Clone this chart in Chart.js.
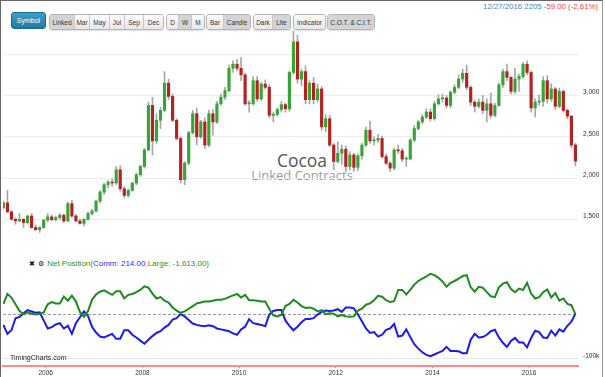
<!DOCTYPE html>
<html>
<head>
<meta charset="utf-8">
<script src="https://cdn.jsdelivr.net/npm/chart.js@4.4.1/dist/chart.umd.min.js"></script>
<style>
  body { margin: 0; width: 605px; height: 377px; position: relative; overflow: hidden; background: #fff; font-family: Arial, "Liberation Sans", sans-serif; }
  #frame { position: absolute; left: 0; top: 0; width: 603px; height: 377px; box-sizing: border-box; border-left: 1px solid #666; border-top: 1px solid #666; border-right: 1px solid #999; z-index: 10; pointer-events: none; }
  #stamp { position: absolute; right: 7px; top: 2px; font-size: 7.8px; white-space: nowrap; }
  #stamp .up { color: #4a82c6; }
  #stamp .dn { color: #ee4444; }
  .sym { position: absolute; left: 11px; top: 12px; width: 35px; height: 17px; border-radius: 3px; background: linear-gradient(#3d9fc7, #1f7aa0); border: 1px solid #1b6b8e; box-sizing: border-box; color: #fff; font-size: 7px; display: flex; align-items: center; justify-content: center; }
  .grp { position: absolute; top: 14px; height: 14px; display: flex; border: 1px solid #b5b5b5; border-radius: 3px; overflow: hidden; box-shadow: 0 1px 1px rgba(0,0,0,0.12); }
  .b { display: flex; align-items: center; justify-content: center; height: 100%; font-size: 6.5px; color: #333; background: linear-gradient(#fbfbfb, #e8e8e8); border-right: 1px solid #c8c8c8; box-sizing: border-box; white-space: nowrap; }
  .b:last-child { border-right: 0; }
  .b.on { background: #d4d4d4; }
  #title { position: absolute; left: 202px; width: 200px; text-align: center; font-family: "Open Sans", sans-serif; z-index: 0; }
  #title .t1 { position: absolute; left: 0; width: 200px; top: 151px; font-size: 17.5px; line-height: 18px; color: #555; }
  #title .t2 { position: absolute; left: 0; width: 200px; top: 168px; font-size: 13px; line-height: 14px; color: #9a9a9a; }
  canvas { position: absolute; left: 0; z-index: 1; }
  #priceChart { top: 30px; }
  #netChart { top: 270px; }
  #legend { position: absolute; left: 29px; top: 259px; font-size: 8px; white-space: nowrap; z-index: 2; }
  #legend .k { color: #111; font-family: "DejaVu Sans", sans-serif; font-size: 7px; margin-right: 3px; }
  #legend .g { color: #1f951f; }
  #legend .bl { color: #2a2aff; }
  #brand { position: absolute; left: 10px; top: 354px; font-size: 7px; color: #222; z-index: 2; }
</style>
</head>
<body>
<div id="frame"></div>
<div id="stamp"><span class="up">12/27/2016 2205</span> <span class="dn">-59.00 (-2.61%)</span></div>

<div class="sym">Symbol</div>
<div class="grp" style="left:49px">
  <span class="b on" style="width:25px">Linked</span><span class="b" style="width:15px">Mar</span><span class="b" style="width:20px">May</span><span class="b" style="width:15px">Jul</span><span class="b" style="width:19px">Sep</span><span class="b" style="width:19px">Dec</span>
</div>
<div class="grp" style="left:166px">
  <span class="b" style="width:12px">D</span><span class="b on" style="width:13px">W</span><span class="b" style="width:12px">M</span>
</div>
<div class="grp" style="left:206px">
  <span class="b" style="width:17px">Bar</span><span class="b on" style="width:26px">Candle</span>
</div>
<div class="grp" style="left:253px">
  <span class="b" style="width:19px">Dark</span><span class="b on" style="width:17px">Lite</span>
</div>
<div class="grp" style="left:293px">
  <span class="b" style="width:31px">Indicator</span>
</div>
<div class="grp" style="left:327px">
  <span class="b on" style="width:46px">C.O.T. &amp; C.I.T.</span>
</div>

<div id="title"><div class="t1">Cocoa</div><div class="t2">Linked Contracts</div></div>

<canvas id="priceChart" width="605" height="205"></canvas>

<div id="legend"><span class="k">✖</span><span class="k">⚙</span><span class="g">Net Position(</span><span class="bl">Comm: 214.00</span><span class="g">,Large: -1,613.00)</span></div>
<canvas id="netChart" width="605" height="107"></canvas>
<div id="brand">TimingCharts.com</div>

<script>
// monthly candles, Feb 2005 .. Dec 2016
const months = [];
for (let y = 2005; y <= 2016; y++) {
  for (let m = 1; m <= 12; m++) {
    if (y === 2005 && m === 1) continue;
    months.push(y + '-' + String(m).padStart(2, '0'));
  }
}

const open = [
  1640,1700,1590,1500,1480,1500,1460,1540,1400,1375,1400,
  1490,1530,1495,1520,1550,1480,1690,1540,1480,1450,1500,1570,
  1600,1720,1830,1920,1950,1940,2100,1870,1790,1850,1940,2040,
  2140,2340,2880,2450,2700,2820,3150,2990,2700,2480,1980,2180,
  2550,2780,2500,2680,2400,2780,2680,2900,2980,3060,3330,3380,
  3330,3250,2900,2900,3180,2960,3140,3100,2760,2770,2830,2890,
  2840,3280,3650,3200,3290,2950,3150,2950,3080,2620,2720,2400,
  2200,2300,2350,2140,2280,2130,2270,2400,2580,2450,2460,2480,
  2260,2180,2120,2340,2330,2230,2230,2460,2600,2680,2740,2800,
  2720,2900,2960,2970,2880,3040,3100,3200,3270,3100,2920,2870,
  2920,2820,2900,2760,2880,3130,3290,3220,3050,3200,3230,3380,
  3280,2850,2920,2930,3180,2960,3080,2870,3050,2820,2750,2400
];
const high = [
  1720,1850,1610,1520,1570,1510,1550,1570,1430,1410,1500,
  1570,1550,1540,1570,1565,1710,1730,1560,1500,1510,1590,1620,
  1730,1850,1940,1970,1990,2140,2150,1900,1870,1950,2060,2160,
  2360,2920,2980,2780,2860,3290,3200,3020,2720,2500,2200,2570,
  2820,2850,2700,2730,2820,2830,2930,3020,3100,3370,3420,3440,
  3460,3270,2940,3230,3230,3160,3190,3130,2800,2850,2930,2910,
  3300,3780,3730,3320,3360,3180,3220,3140,3110,2770,2760,2420,
  2440,2400,2390,2320,2300,2290,2420,2620,2690,2500,2530,2510,
  2290,2200,2360,2400,2360,2260,2480,2640,2700,2770,2840,2840,
  2930,3010,3020,3000,3060,3130,3250,3320,3370,3120,2940,2960,
  3000,2960,3030,2910,3150,3320,3380,3230,3330,3260,3400,3420,
  3300,2960,3010,3230,3240,3140,3100,3090,3070,2840,2760,2420
];
const low = [
  1620,1580,1490,1440,1470,1400,1440,1390,1360,1340,1390,
  1470,1480,1480,1500,1460,1470,1520,1470,1440,1420,1490,1550,
  1590,1700,1800,1880,1900,1920,1840,1760,1770,1840,1920,2020,
  2120,2330,2280,2420,2600,2800,2950,2680,2460,1940,1920,2160,
  2530,2400,2480,2360,2380,2520,2660,2880,2950,3040,3280,3300,
  3180,2880,2800,2880,2930,2940,3080,2730,2680,2750,2800,2800,
  2810,3260,3150,3120,2900,2900,2900,2920,2580,2560,2380,2100,
  2180,2170,2080,2100,2080,2090,2230,2380,2420,2400,2430,2240,
  2160,2080,2100,2300,2200,2140,2220,2440,2580,2660,2720,2690,
  2700,2880,2920,2850,2850,3020,3080,3160,3070,2880,2800,2850,
  2780,2680,2730,2740,2870,3100,3180,3020,3020,3050,3210,3250,
  2800,2740,2880,2870,2910,2930,2830,2850,2800,2720,2370,2150
];
const close = [
  1700,1590,1500,1480,1500,1460,1540,1400,1375,1400,1490,
  1530,1495,1520,1550,1480,1690,1540,1480,1450,1500,1570,1600,
  1720,1830,1920,1950,1940,2100,1870,1790,1850,1940,2040,2140,
  2340,2880,2450,2700,2820,3150,2990,2700,2480,1980,2180,2550,
  2780,2500,2680,2400,2780,2680,2900,2980,3060,3330,3380,3330,
  3250,2900,2900,3180,2960,3140,3100,2760,2770,2830,2890,2840,
  3280,3650,3200,3290,2950,3150,2950,3080,2620,2720,2400,2200,
  2300,2350,2140,2280,2130,2270,2400,2580,2450,2460,2480,2260,
  2180,2120,2340,2330,2230,2230,2460,2600,2680,2740,2800,2720,
  2900,2960,2970,2880,3040,3100,3200,3270,3100,2920,2870,2920,
  2820,2900,2760,2880,3130,3290,3220,3050,3200,3230,3380,3280,
  2850,2920,2930,3180,2960,3080,2870,3050,2820,2750,2400,2205
];

// COT net positions, thousands of contracts
const largeNet = [
  22,44,36,21,6,-1,3,0,-2,0,3,
  21,26,23,23,38,29,40,27,4,-7,6,31,
  43,49,52,47,42,50,50,34,42,44,48,53,
  61,58,45,34,37,29,25,14,7,2,5,11,
  17,23,25,27,27,29,31,31,33,37,41,44,
  36,42,30,30,29,27,27,11,-4,-6,-3,17,
  22,31,25,17,13,14,11,5,8,-1,1,0,
  -6,-3,-6,-7,-6,7,11,20,23,30,40,38,
  30,26,28,53,53,43,53,65,73,78,83,89,
  86,80,72,60,69,73,78,84,86,59,49,60,
  58,48,39,37,59,67,70,55,48,56,53,69,
  45,34,37,48,54,36,46,29,34,22,19,-1.613
];
const commNet = [
  -25,-45,-37,-10,-7,1,8,5,2,3,-15,
  -33,-30,-24,-21,-33,-27,-45,-21,-8,5,-5,-29,
  -42,-51,-53,-49,-45,-56,-56,-37,-37,-47,-53,-60,
  -67,-58,-50,-43,-39,-31,-25,-13,-10,-1,-6,-14,
  -22,-25,-27,-28,-26,-28,-33,-35,-37,-39,-44,-47,
  -35,-29,-12,-21,-23,-25,-28,-2,6,8,8,-15,
  -27,-37,-29,-19,-12,-12,-10,-2,4,7,6,7,
  10,4,14,14,12,-2,-17,-33,-43,-41,-51,-47,
  -36,-33,-23,-51,-49,-35,-52,-68,-78,-86,-92,-95,
  -91,-87,-83,-74,-83,-83,-84,-88,-88,-58,-45,-53,
  -52,-47,-39,-36,-53,-65,-74,-61,-54,-64,-64,-75,
  -54,-38,-41,-53,-54,-38,-49,-35,-40,-27,-18,0.214
];

const priceTicks = [1500, 2000, 2500, 3000, 3500];
const netTicks = [-100, 0];
const yearTicks = [2006, 2008, 2010, 2012, 2014, 2016];

const xMin = 2005.1167, xMax = 2017.0116;
const xs = months.map(s => { const p = s.split('-'); return +p[0] + (+p[1] - 0.5) / 12; });

const tickFont = { family: 'Arial, "Liberation Sans", sans-serif', size: 6.5 };

new Chart(document.getElementById('priceChart'), {
  type: 'bar',
  data: {
    datasets: [{
      label: 'body',
      data: xs.map((x, i) => ({ x: x, y: [open[i], close[i]] })),
      backgroundColor: xs.map((x, i) => close[i] >= open[i] ? '#35a535' : '#b52020'),
      barThickness: 2.5,
      minBarLength: 1,
      grouped: false,
      order: 0
    }, {
      label: 'wick',
      data: xs.map((x, i) => ({ x: x, y: [low[i], high[i]] })),
      backgroundColor: 'rgba(150,150,150,0.85)',
      barThickness: 1,
      grouped: false,
      order: 1
    }]
  },
  options: {
    responsive: false,
    animation: false,
    layout: { padding: { left: 3, right: 0, top: 0, bottom: 0 } },
    plugins: { legend: { display: false }, tooltip: { enabled: false } },
    scales: {
      x: {
        type: 'linear',
        min: xMin,
        max: xMax,
        offset: false,
        bounds: 'data',
        grid: { offset: false, display: false },
        border: { display: false },
        ticks: { display: false },
        afterFit: s => { s.height = 0; s.paddingLeft = 0; s.paddingRight = 0; }
      },
      y: {
        position: 'right',
        min: 1309.7,
        max: 3794.5,
        afterBuildTicks: s => { s.ticks = priceTicks.map(v => ({ value: v })); },
        afterFit: s => { s.width = 27; s.paddingTop = 0; s.paddingBottom = 0; },
        grid: { color: '#ebebeb', drawTicks: false },
        border: { display: false },
        ticks: {
          padding: 5,
          labelOffset: -3,
          font: tickFont,
          color: '#333',
          callback: v => v === 3500 ? '' : v.toLocaleString('en-US')
        }
      }
    }
  }
});

const zeroLine = {
  id: 'zeroLine',
  beforeDatasetsDraw(chart) {
    const { ctx, chartArea, scales } = chart;
    const y = Math.round(scales.y.getPixelForValue(0)) + 0.5;
    ctx.save();
    ctx.strokeStyle = '#999';
    ctx.lineWidth = 1;
    ctx.setLineDash([3, 2]);
    ctx.beginPath();
    ctx.moveTo(chartArea.left, y);
    ctx.lineTo(chartArea.right, y);
    ctx.stroke();
    ctx.restore();
  }
};

new Chart(document.getElementById('netChart'), {
  type: 'line',
  data: {
    datasets: [{
      label: 'Large',
      data: xs.map((x, i) => ({ x: x, y: largeNet[i] })),
      borderColor: '#1c8a1c',
      borderWidth: 2,
      pointRadius: 0,
      tension: 0
    }, {
      label: 'Comm',
      data: xs.map((x, i) => ({ x: x, y: commNet[i] })),
      borderColor: '#1a1af5',
      borderWidth: 2,
      pointRadius: 0,
      tension: 0
    }]
  },
  options: {
    responsive: false,
    animation: false,
    layout: { padding: { left: 3, right: 0, top: 0, bottom: 0 } },
    plugins: { legend: { display: false }, tooltip: { enabled: false } },
    scales: {
      x: {
        type: 'linear',
        min: xMin,
        max: xMax,
        afterBuildTicks: s => { s.ticks = yearTicks.map(v => ({ value: v })); },
        afterFit: s => { s.height = 11; s.paddingLeft = 0; s.paddingRight = 0; },
        grid: { drawOnChartArea: false, drawTicks: true, tickLength: 2, tickColor: '#f77', tickWidth: 1 },
        border: { color: '#f88', width: 2 },
        ticks: { padding: 1, font: tickFont, color: '#333', maxRotation: 0, autoSkip: false, callback: v => String(v) }
      },
      y: {
        position: 'right',
        min: -116.7,
        max: 97.5,
        afterBuildTicks: s => { s.ticks = netTicks.map(v => ({ value: v })); },
        afterFit: s => { s.width = 27; s.paddingTop = 0; s.paddingBottom = 0; },
        grid: { color: c => c.tick && c.tick.value === -100 ? '#e6e6e6' : 'rgba(0,0,0,0)', drawTicks: false },
        border: { display: false },
        ticks: { padding: 5, labelOffset: -2, font: tickFont, color: '#333', callback: v => v === -100 ? '-100k' : '' }
      }
    }
  },
  plugins: [zeroLine]
});
</script>
</body>
</html>
